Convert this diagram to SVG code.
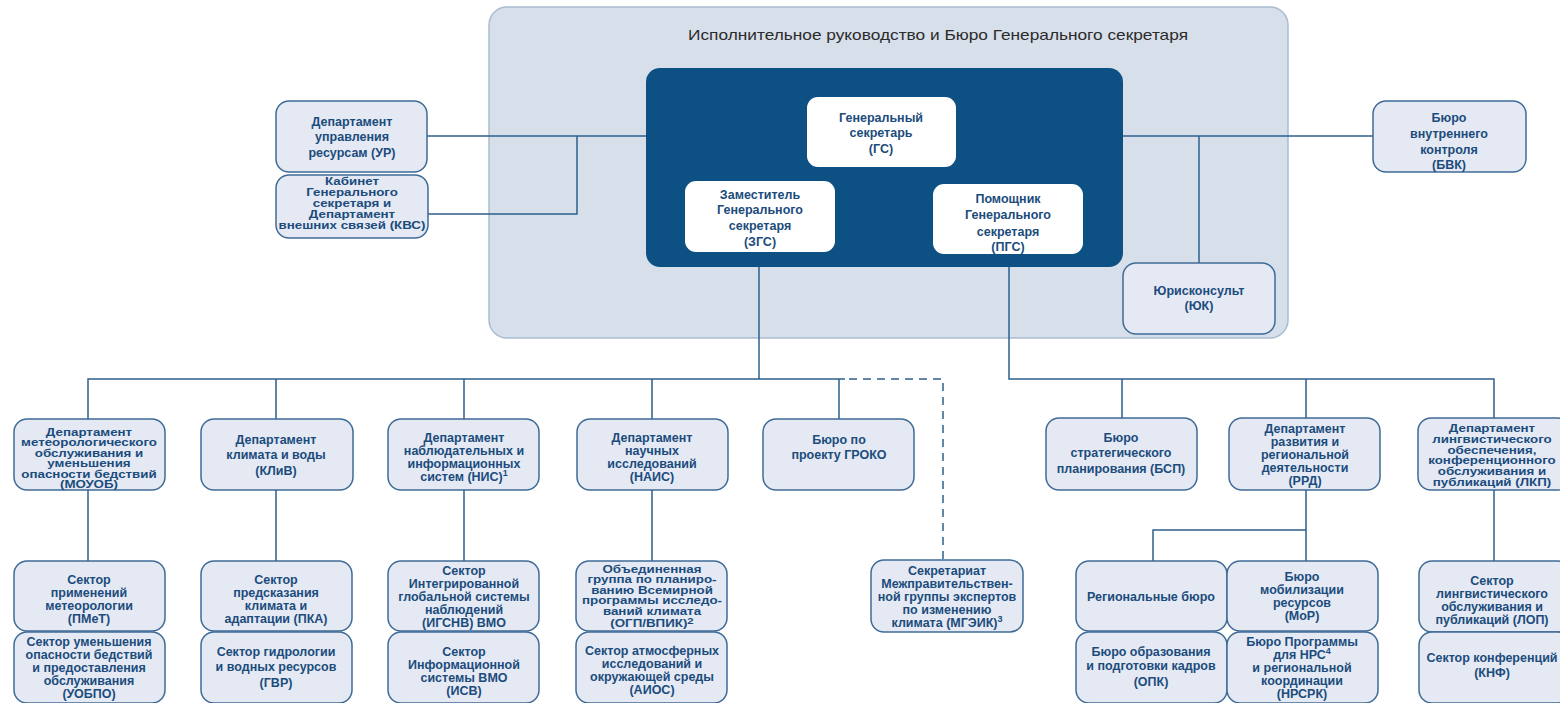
<svg xmlns="http://www.w3.org/2000/svg" width="1560" height="703" viewBox="0 0 1560 703">
<style>
.n{fill:#e5e9f4;stroke:#3f6b97;stroke-width:1.5}
.w{fill:#ffffff;stroke:none}
.t{font-family:"Liberation Sans",Arial,sans-serif;font-weight:bold;font-size:12.5px;fill:#1b4c7c;text-anchor:middle}
.s{font-size:10.5px}
.c{fill:none;stroke:#2e5f8c;stroke-width:1.5}
.d{fill:none;stroke:#2e5f8c;stroke-width:1.5;stroke-dasharray:8 6}
.sup{font-size:9px}
</style>
<rect x="489" y="7" width="799" height="331" rx="18" fill="#d7dfea" stroke="#a9bdd2" stroke-width="1.5"/>
<text x="938" y="40" font-family="Liberation Sans,Arial,sans-serif" font-size="15" fill="#2b2b2b" text-anchor="middle" textLength="500" lengthAdjust="spacingAndGlyphs">Исполнительное руководство и Бюро Генерального секретаря</text>
<rect x="646" y="68" width="477" height="199" rx="14" fill="#0d5184"/>
<g id="connectors">
<path class="c" d="M427,136 H646"/>
<path class="c" d="M577,136 V214 H428"/>
<path class="c" d="M1123,136 H1373"/>
<path class="c" d="M1199,136 V263"/>
<path class="c" d="M759,267 V379"/>
<path class="c" d="M88,419 V379 H845"/>
<path class="c" d="M276,379 V419 M464,379 V419 M652,379 V419 M839,379 V419"/>
<path class="d" d="M849,379 H943 V560"/>
<path class="c" d="M1009,267 V379 H1494 V418"/>
<path class="c" d="M1122,379 V418 M1306,379 V418"/>
<path class="c" d="M88,490 V561 M276,490 V561 M464,490 V561 M652,490 V561"/>
<path class="c" d="M1306,490 V561 M1306,530 H1153 V561"/>
<path class="c" d="M1494,490 V561"/>
</g>
<g id="gs"><rect class="w" x="807" y="97" width="149" height="70" rx="11"/>
<text class="t"><tspan x="881" y="122">Генеральный</tspan><tspan x="881" y="137">секретарь</tspan><tspan x="881" y="153">(ГС)</tspan></text></g>
<g id="zgs"><rect class="w" x="685" y="181" width="150" height="71" rx="11"/>
<text class="t"><tspan x="760" y="199">Заместитель</tspan><tspan x="760" y="214">Генерального</tspan><tspan x="760" y="230">секретаря</tspan><tspan x="760" y="246">(ЗГС)</tspan></text></g>
<g id="pgs"><rect class="w" x="933" y="184" width="150" height="70" rx="11"/>
<text class="t"><tspan x="1008" y="203">Помощник</tspan><tspan x="1008" y="219">Генерального</tspan><tspan x="1008" y="236">секретаря</tspan><tspan x="1008" y="251">(ПГС)</tspan></text></g>
<g id="ur"><rect class="n" x="276" y="101" width="151" height="71" rx="13"/>
<text class="t"><tspan x="352" y="126">Департамент</tspan><tspan x="352" y="141">управления</tspan><tspan x="352" y="157">ресурсам (УР)</tspan></text></g>
<g id="kvs"><rect class="n" x="276" y="175" width="152" height="63" rx="13"/>
<text class="t s" transform="matrix(1.27,0,0,1,-95.04,0)"><tspan x="352" y="185">Кабинет</tspan><tspan x="352" y="196">Генерального</tspan><tspan x="352" y="207">секретаря и</tspan><tspan x="352" y="218">Департамент</tspan><tspan x="352" y="229">внешних связей (КВС)</tspan></text></g>
<g id="bvk"><rect class="n" x="1373" y="101" width="153" height="71" rx="13"/>
<text class="t"><tspan x="1449" y="122">Бюро</tspan><tspan x="1449" y="138">внутреннего</tspan><tspan x="1449" y="154">контроля</tspan><tspan x="1449" y="169">(БВК)</tspan></text></g>
<g id="yuk"><rect class="n" x="1123" y="263" width="152" height="71" rx="13"/>
<text class="t"><tspan x="1199" y="295">Юрисконсульт</tspan><tspan x="1199" y="310">(ЮК)</tspan></text></g>
<g id="mouob"><rect class="n" x="14" y="419" width="151" height="71" rx="13"/>
<text class="t s" transform="matrix(1.27,0,0,1,-24.03,0)"><tspan x="89" y="436">Департамент</tspan><tspan x="89" y="446.5">метеорологического</tspan><tspan x="89" y="457">обслуживания и</tspan><tspan x="89" y="467.5">уменьшения</tspan><tspan x="89" y="478">опасности бедствий</tspan><tspan x="89" y="488.5">(МОУОБ)</tspan></text></g>
<g id="kliv"><rect class="n" x="201" y="419" width="152" height="71" rx="13"/>
<text class="t"><tspan x="276" y="444">Департамент</tspan><tspan x="276" y="459">климата и воды</tspan><tspan x="276" y="475">(КЛиВ)</tspan></text></g>
<g id="nis"><rect class="n" x="388" y="419" width="151" height="71" rx="13"/>
<text class="t"><tspan x="464" y="442">Департамент</tspan><tspan x="464" y="455">наблюдательных и</tspan><tspan x="464" y="468">информационных</tspan><tspan x="464" y="481">систем (НИС)<tspan class="sup" dy="-5">1</tspan></tspan></text></g>
<g id="nais"><rect class="n" x="577" y="419" width="151" height="71" rx="13"/>
<text class="t"><tspan x="652" y="442">Департамент</tspan><tspan x="652" y="455">научных</tspan><tspan x="652" y="468">исследований</tspan><tspan x="652" y="481">(НАИС)</tspan></text></g>
<g id="groko"><rect class="n" x="763" y="419" width="151" height="71" rx="13"/>
<text class="t"><tspan x="839" y="444">Бюро по</tspan><tspan x="839" y="459">проекту ГРОКО</tspan></text></g>
<g id="bsp"><rect class="n" x="1046" y="418" width="151" height="72" rx="13"/>
<text class="t"><tspan x="1121" y="442">Бюро</tspan><tspan x="1121" y="457">стратегического</tspan><tspan x="1121" y="473">планирования (БСП)</tspan></text></g>
<g id="rrd"><rect class="n" x="1229" y="418" width="151" height="72" rx="13"/>
<text class="t"><tspan x="1305" y="433">Департамент</tspan><tspan x="1305" y="446">развития и</tspan><tspan x="1305" y="459">региональной</tspan><tspan x="1305" y="472">деятельности</tspan><tspan x="1305" y="485">(РРД)</tspan></text></g>
<g id="lkp"><rect class="n" x="1418" y="418" width="152" height="72" rx="13"/>
<text class="t s" transform="matrix(1.27,0,0,1,-402.84,0)"><tspan x="1492" y="432">Департамент</tspan><tspan x="1492" y="442.8">лингвистического</tspan><tspan x="1492" y="453.6">обеспечения,</tspan><tspan x="1492" y="464.4">конференционного</tspan><tspan x="1492" y="475.2">обслуживания и</tspan><tspan x="1492" y="486">публикаций (ЛКП)</tspan></text></g>
<g id="pmet"><rect class="n" x="14" y="561" width="151" height="70" rx="13"/>
<text class="t"><tspan x="89" y="584">Сектор</tspan><tspan x="89" y="597">применений</tspan><tspan x="89" y="610">метеорологии</tspan><tspan x="89" y="623">(ПМеТ)</tspan></text></g>
<g id="uobpo"><rect class="n" x="14" y="632" width="151" height="71" rx="13"/>
<text class="t"><tspan x="89" y="646">Сектор уменьшения</tspan><tspan x="89" y="659">опасности бедствий</tspan><tspan x="89" y="672">и предоставления</tspan><tspan x="89" y="685">обслуживания</tspan><tspan x="89" y="698">(УОБПО)</tspan></text></g>
<g id="pka"><rect class="n" x="201" y="561" width="151" height="70" rx="13"/>
<text class="t"><tspan x="276" y="584">Сектор</tspan><tspan x="276" y="597">предсказания</tspan><tspan x="276" y="610">климата и</tspan><tspan x="276" y="623">адаптации (ПКА)</tspan></text></g>
<g id="gvr"><rect class="n" x="201" y="632" width="151" height="71" rx="13"/>
<text class="t"><tspan x="276" y="656">Сектор  гидрологии</tspan><tspan x="276" y="671">и водных ресурсов</tspan><tspan x="276" y="687">(ГВР)</tspan></text></g>
<g id="igsnv"><rect class="n" x="388" y="561" width="151" height="70" rx="13"/>
<text class="t"><tspan x="464" y="575">Сектор</tspan><tspan x="464" y="588">Интегрированной</tspan><tspan x="464" y="601">глобальной системы</tspan><tspan x="464" y="614">наблюдений</tspan><tspan x="464" y="627">(ИГСНВ) ВМО</tspan></text></g>
<g id="isv"><rect class="n" x="388" y="632" width="151" height="71" rx="13"/>
<text class="t"><tspan x="464" y="656">Сектор</tspan><tspan x="464" y="669">Информационной</tspan><tspan x="464" y="682">системы ВМО</tspan><tspan x="464" y="695">(ИСВ)</tspan></text></g>
<g id="ogp"><rect class="n" x="576" y="561" width="151" height="70" rx="13"/>
<text class="t s" transform="matrix(1.27,0,0,1,-176.04,0)"><tspan x="652" y="573">Объединенная</tspan><tspan x="652" y="583.5">группа по планиро-</tspan><tspan x="652" y="594">ванию Всемирной</tspan><tspan x="652" y="604.5">программы исследо-</tspan><tspan x="652" y="615">ваний климата</tspan><tspan x="652" y="627">(ОГП/ВПИК)<tspan class="sup" dy="-3">2</tspan></tspan></text></g>
<g id="aios"><rect class="n" x="576" y="632" width="151" height="71" rx="13"/>
<text class="t"><tspan x="652" y="655">Сектор атмосферных</tspan><tspan x="652" y="668">исследований и</tspan><tspan x="652" y="681">окружающей среды</tspan><tspan x="652" y="694">(АИОС)</tspan></text></g>
<g id="mgeik"><rect class="n" x="871" y="560" width="152" height="72" rx="13"/>
<text class="t"><tspan x="947" y="575">Секретариат</tspan><tspan x="947" y="588">Межправительствен-</tspan><tspan x="947" y="601">ной группы экспертов</tspan><tspan x="947" y="614">по изменению</tspan><tspan x="947" y="627">климата (МГЭИК)<tspan class="sup" dy="-5">3</tspan></tspan></text></g>
<g id="reg"><rect class="n" x="1076" y="561" width="151" height="70" rx="13"/>
<text class="t"><tspan x="1151" y="601">Региональные бюро</tspan></text></g>
<g id="opk"><rect class="n" x="1076" y="632" width="151" height="71" rx="13"/>
<text class="t"><tspan x="1151" y="656">Бюро образования</tspan><tspan x="1151" y="670">и подготовки кадров</tspan><tspan x="1151" y="686">(ОПК)</tspan></text></g>
<g id="mop"><rect class="n" x="1227" y="561" width="151" height="70" rx="13"/>
<text class="t"><tspan x="1302" y="581">Бюро</tspan><tspan x="1302" y="594">мобилизации</tspan><tspan x="1302" y="607">ресурсов</tspan><tspan x="1302" y="620">(МоР)</tspan></text></g>
<g id="nrspk"><rect class="n" x="1227" y="632" width="151" height="71" rx="13"/>
<text class="t"><tspan x="1302" y="646">Бюро Программы</tspan><tspan x="1302" y="659">для НРС<tspan class="sup" dy="-5">4</tspan></tspan><tspan x="1302" y="672">и региональной</tspan><tspan x="1302" y="685">координации</tspan><tspan x="1302" y="698">(НРСРК)</tspan></text></g>
<g id="lop"><rect class="n" x="1419" y="561" width="152" height="71" rx="13"/>
<text class="t"><tspan x="1492" y="585">Сектор</tspan><tspan x="1492" y="598">лингвистического</tspan><tspan x="1492" y="611">обслуживания и</tspan><tspan x="1492" y="624">публикаций (ЛОП)</tspan></text></g>
<g id="knf"><rect class="n" x="1419" y="632" width="152" height="71" rx="13"/>
<text class="t"><tspan x="1492" y="662">Сектор конференций</tspan><tspan x="1492" y="677">(КНФ)</tspan></text></g>
</svg>
